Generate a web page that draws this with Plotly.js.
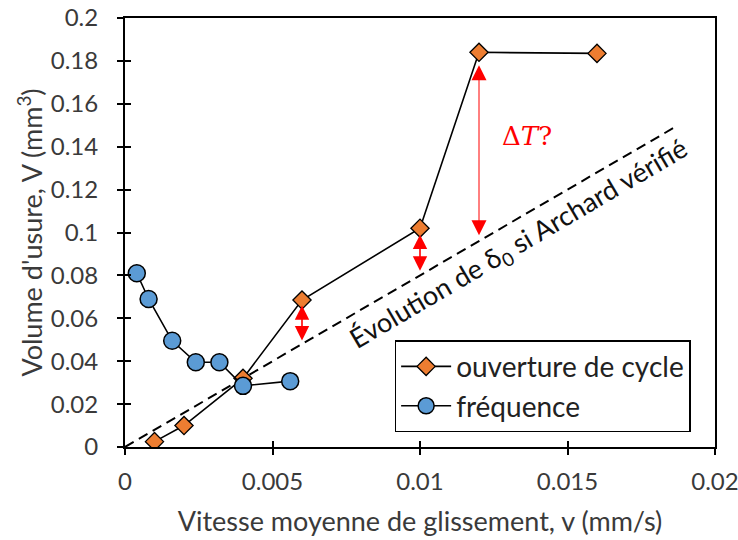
<!DOCTYPE html>
<html><head><meta charset="utf-8">
<script src="https://cdn.plot.ly/plotly-3.0.1.min.js"></script>
<style>body{margin:0;background:#fff}#chart{width:738px;height:540px}</style>
</head><body><div id="chart"></div>
<script>
// Data
const cycleX = [0.001, 0.002, 0.004, 0.006, 0.010, 0.012, 0.016];
const cycleY = [0.0025, 0.010, 0.032, 0.0685, 0.102, 0.184, 0.1835];
const freqX = [0.0004, 0.0008, 0.0016, 0.0024, 0.0032, 0.0040, 0.0056];
const freqY = [0.081, 0.069, 0.0495, 0.0395, 0.0395, 0.0285, 0.0307];
const archardX = [0, 0.01875];
const archardY = [0, 0.15];
// Red gap arrows: x, top, bottom
const gapX = [0.006, 0.010, 0.012];
const gapTop = [0.066, 0.099, 0.178];
const gapBot = [0.049, 0.0815, 0.098];
const xTicks = [0, 0.005, 0.01, 0.015, 0.02];
const xTickText = ['0', '0.005', '0.01', '0.015', '0.02'];
const yTicks = [0, 0.02, 0.04, 0.06, 0.08, 0.1, 0.12, 0.14, 0.16, 0.18, 0.2];
const yTickText = ['0', '0.02', '0.04', '0.06', '0.08', '0.1', '0.12', '0.14', '0.16', '0.18', '0.2'];

const FONT = 'Lato, "Open Sans", sans-serif';
const TXT = '#3a3a3a';

const traces = [
  {x: archardX, y: archardY, mode: 'lines', line: {color: '#000', width: 2, dash: '10px,6px'}, showlegend: false, hoverinfo: 'skip'},
  {x: cycleX, y: cycleY, mode: 'lines+markers', name: 'ouverture de cycle',
   line: {color: '#000', width: 1.6},
   marker: {symbol: 'diamond', size: 14, color: '#ED7D31', line: {color: '#000', width: 1.3}}},
  {x: freqX, y: freqY, mode: 'lines+markers', name: 'fréquence',
   line: {color: '#000', width: 1.6},
   marker: {symbol: 'circle', size: 17, color: '#5B9BD5', line: {color: '#000', width: 1.5}}},
  {x: [null], y: [null], xaxis: 'x2', yaxis: 'y2', mode: 'markers', showlegend: false, hoverinfo: 'skip'}
];

const annotations = [];
for (let i = 0; i < gapX.length; i++) {
  const big = i === 2;
  annotations.push({x: gapX[i], y: gapTop[i], ax: gapX[i], ay: gapBot[i], xref: 'x', yref: 'y', axref: 'x', ayref: 'y',
    showarrow: true, text: '', arrowhead: 2, startarrowhead: 2, arrowside: 'end+start',
    arrowsize: big ? 3 : 1.8, startarrowsize: big ? 3 : 1.8, arrowwidth: big ? 1 : 1.6, arrowcolor: '#ff0000'});
}
annotations.push({x: 0.01362, y: 0.1448, xref: 'x', yref: 'y', showarrow: false,
  text: 'Δ<i>T</i>?', font: {family: '"DejaVu Serif", "Liberation Serif", serif', size: 26, color: '#ff0000'}});
annotations.push({x: 0.01335, y: 0.0945, xref: 'x', yref: 'y', showarrow: false, textangle: -30.4,
  text: 'Évolution de δ<sub>0</sub> si Archard vérifié', font: {family: FONT, size: 27, color: '#111'}});

const layout = {
  width: 738, height: 540,
  margin: {l: 125, r: 22.5, t: 17.5, b: 93},
  paper_bgcolor: '#fff', plot_bgcolor: '#fff',
  font: {family: FONT, color: TXT, size: 24},
  xaxis: {range: [0, 0.02], tickvals: xTicks, ticktext: xTickText, ticks: 'outside', ticklen: 6, tickwidth: 2,
    tickcolor: '#000', linecolor: '#000', linewidth: 2, mirror: true, showgrid: false, zeroline: false,
    tickfont: {size: 24, color: TXT, family: FONT}, ticklabelstandoff: 6, ticklabeloverflow: 'allow',
    title: {text: 'Vitesse moyenne de glissement, v (mm/s)', font: {size: 27, color: TXT, family: FONT}, standoff: 18}},
  yaxis: {range: [0, 0.2], tickvals: yTicks, ticktext: yTickText, ticks: 'outside', ticklen: 6, tickwidth: 2,
    tickcolor: '#000', linecolor: '#000', linewidth: 2, mirror: true, showgrid: false, zeroline: false,
    tickfont: {size: 24, color: TXT, family: FONT}, ticklabelstandoff: 14, ticklabeloverflow: 'allow',
    title: {text: "Volume d'usure, V (mm<sup>3</sup>)", font: {size: 27, color: TXT, family: FONT}, standoff: 0}},
  xaxis2: {overlaying: 'x', range: [0, 0.02], tickvals: xTicks, ticks: 'inside', ticklen: 6, tickwidth: 2, tickcolor: '#000',
    showticklabels: false, showgrid: false, zeroline: false, showline: false, side: 'bottom'},
  yaxis2: {overlaying: 'y', range: [0, 0.2], tickvals: yTicks, ticks: 'inside', ticklen: 6, tickwidth: 2, tickcolor: '#000',
    showticklabels: false, showgrid: false, zeroline: false, showline: false, side: 'left'},
  legend: {x: 0.457, y: 0.249, xanchor: 'left', yanchor: 'top', bordercolor: '#000', borderwidth: 1.5,
    bgcolor: '#fff', font: {size: 28, color: '#222', family: FONT}, itemwidth: 50, tracegroupgap: 0},
  annotations: annotations,
  showlegend: true
};

Plotly.newPlot('chart', traces, layout, {staticPlot: true, displayModeBar: false});
</script>
</body></html>
